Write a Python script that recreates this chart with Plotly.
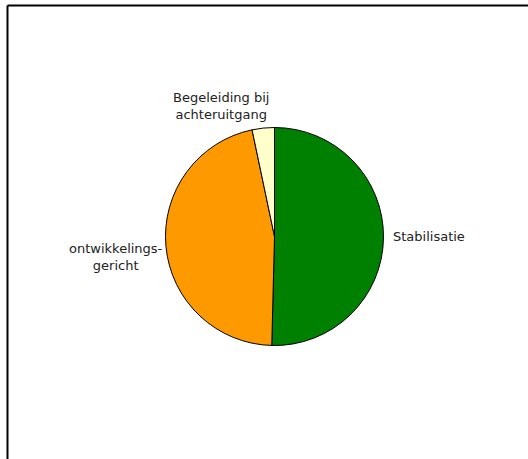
import plotly.graph_objects as go

categories = ["Stabilisatie", "ontwikkelingsgericht", "Begeleiding bij achteruitgang"]
values = [50.4, 46.3, 3.3]
colors = ["#008000", "#FF9900", "#FFFFCC"]
label_texts = ["Stabilisatie", "ontwikkelings-<br>gericht", "Begeleiding bij<br>achteruitgang"]

W, H = 528, 459

fig = go.Figure(go.Pie(
    labels=categories,
    values=values,
    sort=False,
    direction="clockwise",
    rotation=0,
    marker=dict(colors=colors, line=dict(color="#000000", width=1)),
    textinfo="none",
    hoverinfo="label+percent",
    showlegend=False,
    domain=dict(x=[165.5 / W, 383.5 / W], y=[1 - 345.5 / H, 1 - 127.5 / H]),
))

font = dict(family="DejaVu Sans, Verdana, sans-serif", size=13, color="#222222")
ann = [
    dict(x=391 / W, y=1 - 236.7 / H, xanchor="left"),
    dict(x=116 / W, y=1 - 257 / H, xanchor="center"),
    dict(x=221 / W, y=1 - 106 / H, xanchor="center"),
]
for a, t in zip(ann, label_texts):
    fig.add_annotation(x=a["x"], y=a["y"], xref="paper", yref="paper", text=t,
                       showarrow=False, xanchor=a["xanchor"], yanchor="middle",
                       align="center", font=font)

# frame lines (top and left)
fig.add_shape(type="line", xref="paper", yref="paper", x0=7.5 / W, x1=1.0,
              y0=1 - 5.5 / H, y1=1 - 5.5 / H, line=dict(color="#000000", width=2))
fig.add_shape(type="line", xref="paper", yref="paper", x0=7.5 / W, x1=7.5 / W,
              y0=0, y1=1 - 5.5 / H, line=dict(color="#000000", width=2))

fig.update_layout(
    width=W, height=H,
    margin=dict(l=0, r=0, t=0, b=0),
    paper_bgcolor="#FFFFFF",
    plot_bgcolor="#FFFFFF",
)

fig.write_html(
    "out.html",
    config={"displayModeBar": False},
    post_script="document.body.style.margin='0';document.body.style.padding='0';"
                "document.body.style.overflow='hidden';",
)
